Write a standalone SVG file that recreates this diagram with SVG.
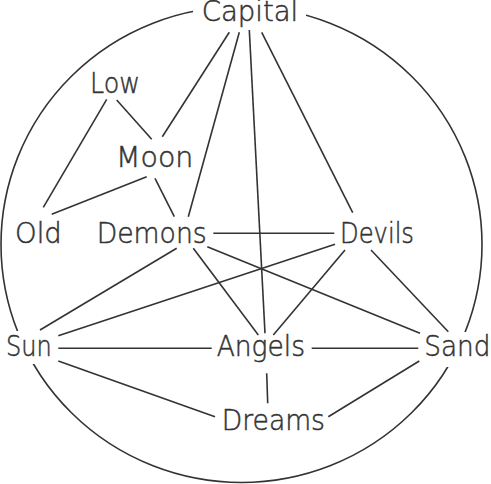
<svg xmlns="http://www.w3.org/2000/svg" width="491" height="484" viewBox="0 0 491 484">
<style>
.lbl{font-family:"DejaVu Sans","Liberation Sans",sans-serif;font-size:28px;font-weight:300;fill:#333;stroke:#333;stroke-width:0.5}
.bg{fill:#fff}
#edges line,#ring{stroke:#333;stroke-width:1.6;fill:none}
</style>
<rect width="491" height="484" fill="#fff"/>
<ellipse id="ring" cx="241.5" cy="244.5" rx="240.5" ry="238"/>
<g id="edges">
<line x1="229.3" y1="32.3" x2="162.3" y2="136.7"/>
<line x1="239.3" y1="32.3" x2="188.3" y2="216.7"/>
<line x1="249.3" y1="30" x2="265" y2="333.3"/>
<line x1="261.7" y1="32.3" x2="352.7" y2="212.7"/>
<line x1="116.7" y1="100" x2="151.7" y2="139.3"/>
<line x1="106.7" y1="99.3" x2="43.3" y2="207.3"/>
<line x1="146.7" y1="176.7" x2="51.7" y2="214.3"/>
<line x1="155" y1="178.3" x2="174.3" y2="216.7"/>
<line x1="213.3" y1="233.3" x2="334.3" y2="233.3"/>
<line x1="176.7" y1="248.3" x2="40" y2="330"/>
<line x1="193.3" y1="248.3" x2="258.3" y2="335"/>
<line x1="207.3" y1="246.7" x2="420" y2="333.3"/>
<line x1="335" y1="244.3" x2="58.3" y2="335.7"/>
<line x1="345" y1="250" x2="273.3" y2="335"/>
<line x1="371" y1="250" x2="448.3" y2="331.7"/>
<line x1="58.3" y1="348.3" x2="211.7" y2="348.3"/>
<line x1="311.7" y1="348.3" x2="418.3" y2="348.3"/>
<line x1="58.3" y1="361" x2="215" y2="416.7"/>
<line x1="266.7" y1="373.3" x2="267.7" y2="403.3"/>
<line x1="419.3" y1="361" x2="328.3" y2="416.7"/>
</g>
<g id="capital"><rect class="bg" x="193" y="0" width="113" height="28"/><text class="lbl" x="201.7" y="21" textLength="96.6" lengthAdjust="spacingAndGlyphs">Capital</text></g>
<g id="low"><text class="lbl" x="90" y="93" textLength="50" lengthAdjust="spacingAndGlyphs">Low</text></g>
<g id="moon"><text class="lbl" x="116" y="167" textLength="77.3" lengthAdjust="spacingAndGlyphs">Moon</text></g>
<g id="old"><text class="lbl" x="15" y="243" textLength="46.7" lengthAdjust="spacingAndGlyphs">Old</text></g>
<g id="demons"><text class="lbl" x="96.7" y="243" textLength="110" lengthAdjust="spacingAndGlyphs">Demons</text></g>
<g id="devils"><text class="lbl" x="340" y="243" textLength="74" lengthAdjust="spacingAndGlyphs">Devils</text></g>
<g id="sun"><rect class="bg" x="0" y="331" width="56" height="33"/><text class="lbl" x="6" y="356" textLength="45.7" lengthAdjust="spacingAndGlyphs">Sun</text></g>
<g id="angels"><text class="lbl" x="216.7" y="356" textLength="88.3" lengthAdjust="spacingAndGlyphs">Angels</text></g>
<g id="sand"><rect class="bg" x="421" y="332" width="70" height="35"/><text class="lbl" x="424.3" y="356" textLength="66.2" lengthAdjust="spacingAndGlyphs">Sand</text></g>
<g id="dreams"><text class="lbl" x="221.7" y="430" textLength="103.3" lengthAdjust="spacingAndGlyphs">Dreams</text></g>
</svg>
